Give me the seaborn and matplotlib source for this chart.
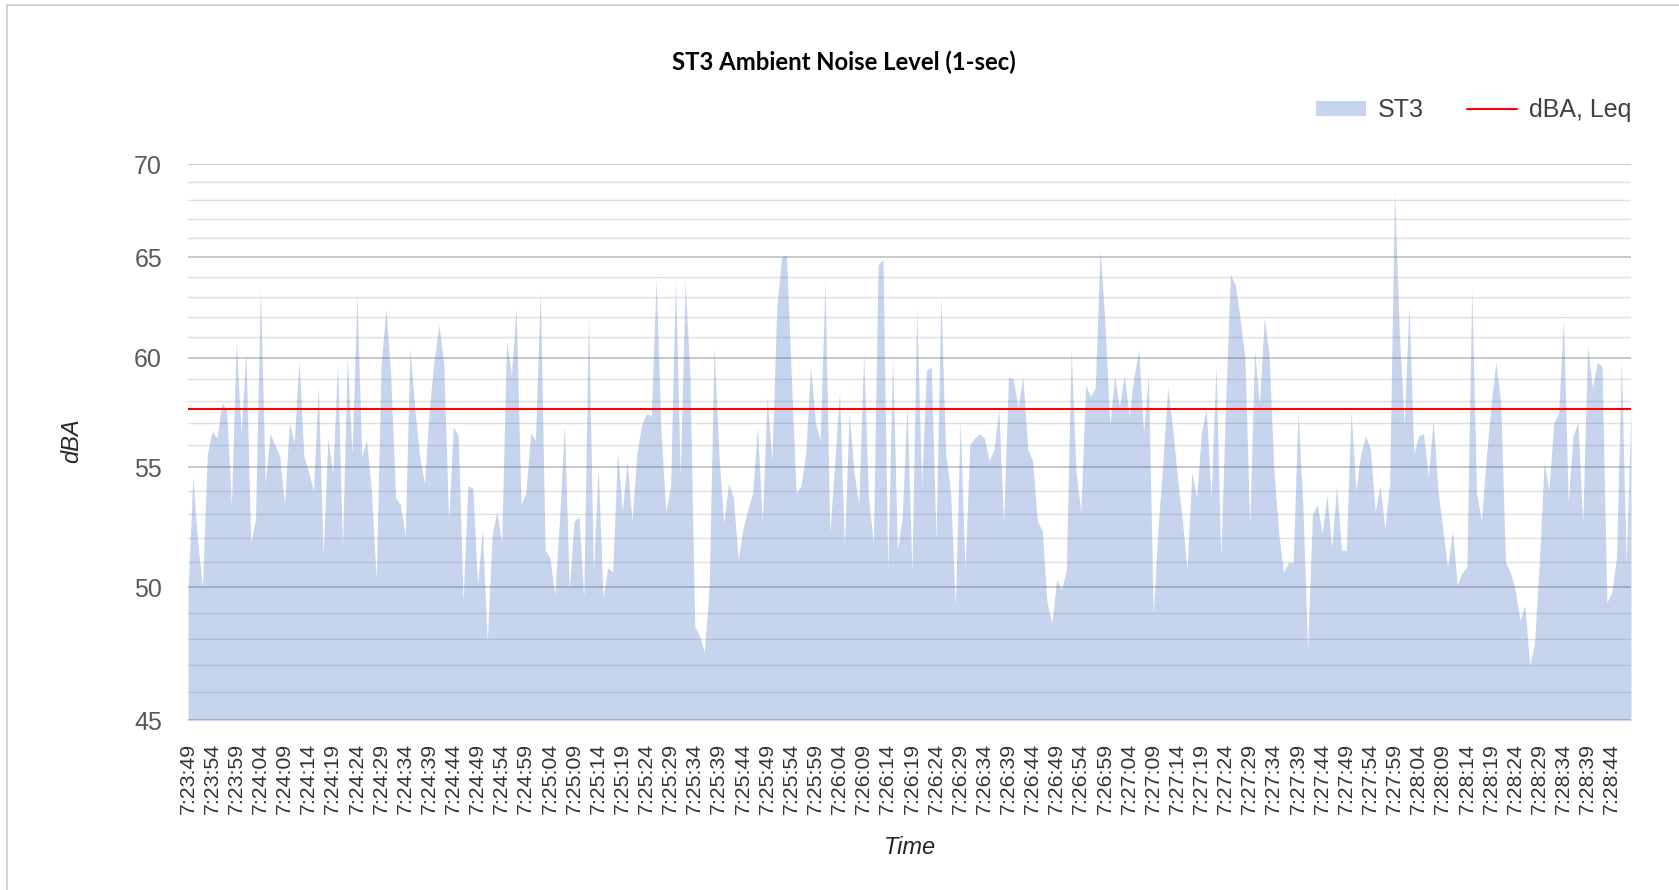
import numpy as np
import pandas as pd
import matplotlib
matplotlib.use("Agg")
import matplotlib.pyplot as plt
import seaborn as sns
from matplotlib.ticker import FixedLocator, FixedFormatter, NullFormatter
from matplotlib.patches import Patch, Rectangle
from matplotlib.lines import Line2D

# ---------------- data ----------------
start_time = (7, 23, 49)          # first 1-sec sample
st3_dba = [
    49.8, 54.6, 51.9, 50.0, 55.6, 56.6, 56.3, 57.9, 57.6, 53.4,
    60.8, 56.5, 60.3, 51.8, 52.8, 63.5, 54.3, 56.5, 56.0, 55.5,
    53.4, 57.0, 56.1, 59.9, 55.5, 54.8, 54.0, 58.7, 51.3, 56.3,
    54.7, 59.8, 51.6, 60.0, 55.6, 63.1, 55.5, 56.2, 54.0, 50.3,
    59.6, 62.4, 59.2, 53.7, 53.4, 52.1, 60.4, 57.6, 55.5, 54.3,
    57.6, 59.9, 61.6, 59.7, 52.7, 56.8, 56.4, 49.5, 54.2, 54.1,
    50.1, 52.4, 47.9, 52.1, 53.1, 51.8, 60.8, 59.2, 62.4, 53.4,
    53.9, 56.5, 56.2, 63.3, 51.5, 51.2, 49.7, 52.8, 56.9, 49.9,
    52.7, 52.9, 49.6, 62.2, 50.6, 55.0, 49.6, 50.8, 50.6, 55.7,
    53.1, 55.3, 52.7, 55.6, 56.9, 57.4, 57.3, 63.9, 56.6, 53.1,
    54.2, 63.9, 54.6, 63.8, 59.2, 48.5, 48.1, 47.5, 50.0, 60.5,
    55.6, 52.6, 54.3, 53.7, 51.1, 52.4, 53.2, 53.9, 56.8, 52.7,
    58.2, 55.3, 62.5, 65.0, 65.1, 59.2, 53.9, 54.2, 55.6, 59.6,
    57.0, 56.2, 63.8, 52.2, 55.2, 58.4, 51.7, 57.4, 54.8, 53.4,
    60.2, 53.7, 51.8, 64.6, 64.9, 50.7, 60.1, 51.5, 52.9, 57.8,
    50.6, 62.4, 54.2, 59.4, 59.6, 52.0, 63.0, 55.6, 54.0, 49.2,
    57.1, 50.7, 56.0, 56.3, 56.5, 56.3, 55.3, 55.8, 57.6, 52.6,
    59.1, 59.0, 57.7, 59.1, 55.8, 55.3, 52.7, 52.3, 49.4, 48.6,
    50.3, 49.9, 50.7, 60.4, 54.8, 53.1, 58.7, 58.2, 58.6, 65.4,
    61.7, 56.9, 59.1, 57.7, 59.2, 57.3, 59.1, 60.4, 56.5, 59.2,
    48.9, 52.4, 55.2, 58.6, 56.8, 54.6, 52.8, 50.7, 54.8, 53.7,
    56.6, 57.6, 53.7, 59.6, 51.2, 57.9, 64.1, 63.6, 61.9, 60.0,
    52.5, 60.4, 57.8, 61.9, 60.2, 54.9, 52.2, 50.6, 51.0, 51.0,
    57.5, 53.4, 47.6, 53.0, 53.4, 52.2, 53.8, 51.6, 54.2, 51.5,
    51.5, 57.5, 54.0, 55.6, 56.4, 55.8, 53.1, 54.2, 52.4, 54.4,
    68.5, 61.2, 56.9, 62.6, 55.6, 56.4, 56.5, 54.6, 57.1, 54.0,
    52.4, 50.8, 52.3, 50.1, 50.6, 50.8, 63.4, 53.9, 52.7, 55.4,
    57.8, 59.8, 57.9, 51.0, 50.6, 49.9, 48.7, 49.3, 47.0, 47.8,
    51.0, 55.2, 54.0, 57.0, 57.4, 61.9, 53.5, 56.4, 57.0, 52.6,
    60.6, 58.6, 59.8, 59.6, 49.4, 49.8, 51.2, 59.9, 51.0, 57.6,
]
leq_dba = 57.6
y_ticks = [45, 50, 55, 60, 65, 70]
y_minor = [v for v in range(45, 71) if v % 5]
label_every = 5

# category labels (h:mm:ss), one per second
times = []
h, m, s = start_time
for _ in st3_dba:
    times.append(f"{h}:{m:02d}:{s:02d}")
    s += 1
    if s == 60:
        s = 0
        m += 1
        if m == 60:
            m = 0
            h += 1

n = len(st3_dba)
df = pd.DataFrame({"pos": np.arange(n), "Time": times, "dBA": st3_dba})

# ---------------- style ----------------
sns.set_theme(style="white")
plt.rcParams["font.family"] = ["Liberation Sans", "DejaVu Sans"]

W, H = 1679, 890
fig = plt.figure(figsize=(W / 100, H / 100), dpi=100)
fig.patch.set_facecolor("white")

# outer chart border (only top/left visible in the reference)
fig.add_artist(Rectangle((7 / W, -0.2), 1.5, 1.2 - 5 / H,
                         transform=fig.transFigure, fill=False,
                         edgecolor="#D0D0D0", linewidth=1.3))

L, R, T, B = 188, 1631, 164, 720
ax = fig.add_axes([L / W, 1 - B / H, (R - L) / W, (B - T) / H])

AREA = "#4472C4"
sns.lineplot(data=df, x="pos", y="dBA", ax=ax, color=AREA, linewidth=0,
             legend=False)
ax.fill_between(df["pos"], df["dBA"], 40, color=AREA, alpha=0.30,
                linewidth=0, zorder=2)
ax.axhline(leq_dba, color="#FF0000", linewidth=1.5, zorder=3)

ax.set_yscale("log")
ax.set_ylim(45, 70)
ax.set_xlim(0, n - 1)
ax.yaxis.set_major_locator(FixedLocator(y_ticks))
ax.yaxis.set_major_formatter(FixedFormatter([str(v) for v in y_ticks]))
ax.yaxis.set_minor_locator(FixedLocator(y_minor))
ax.yaxis.set_minor_formatter(NullFormatter())

xt = list(range(0, n, label_every))
ax.set_xticks(xt)
ax.set_xticklabels([times[i] for i in xt], rotation=90)

ax.grid(which="major", axis="y", color="#BFBFBF", linewidth=1.2)
ax.grid(which="minor", axis="y", color="#E0E0E0", linewidth=1.0)
ax.grid(axis="x", visible=False)
ax.set_axisbelow(True)
for sp in ax.spines.values():
    sp.set_visible(False)

ax.tick_params(axis="both", which="both", length=0)
ax.tick_params(axis="y", labelsize=18, labelcolor="#595959", pad=18.7)
ax.tick_params(axis="x", labelsize=15.3, labelcolor="#333333", pad=16.5)

ax.set_ylabel("dBA", fontsize=17, style="italic", color="#262626")
ax.yaxis.set_label_coords(-0.0725, 0.502)
ax.set_xlabel("Time", fontsize=17, style="italic", color="#262626")
ax.xaxis.set_label_coords(0.5, -0.2091)

fig.text(844 / W, 1 - 62 / H, "ST3 Ambient Noise Level (1-sec)",
         ha="center", va="center", fontsize=17.2, fontweight="bold",
         family=["Lato", "DejaVu Sans"], color="black")

handles = [Patch(facecolor=AREA, alpha=0.30, edgecolor="none", label="ST3"),
           Line2D([], [], color="#FF0000", linewidth=1.5, label="dBA, Leq")]
fig.legend(handles=handles, loc="center right",
           bbox_to_anchor=(1631 / W, 1 - 110 / H), ncol=2, frameon=False,
           fontsize=18, handlelength=2.0, handleheight=0.55,
           handletextpad=0.45, columnspacing=1.75, borderpad=0,
           borderaxespad=0, labelcolor="#404040")

fig.savefig("out.png", dpi=100, facecolor="white")
